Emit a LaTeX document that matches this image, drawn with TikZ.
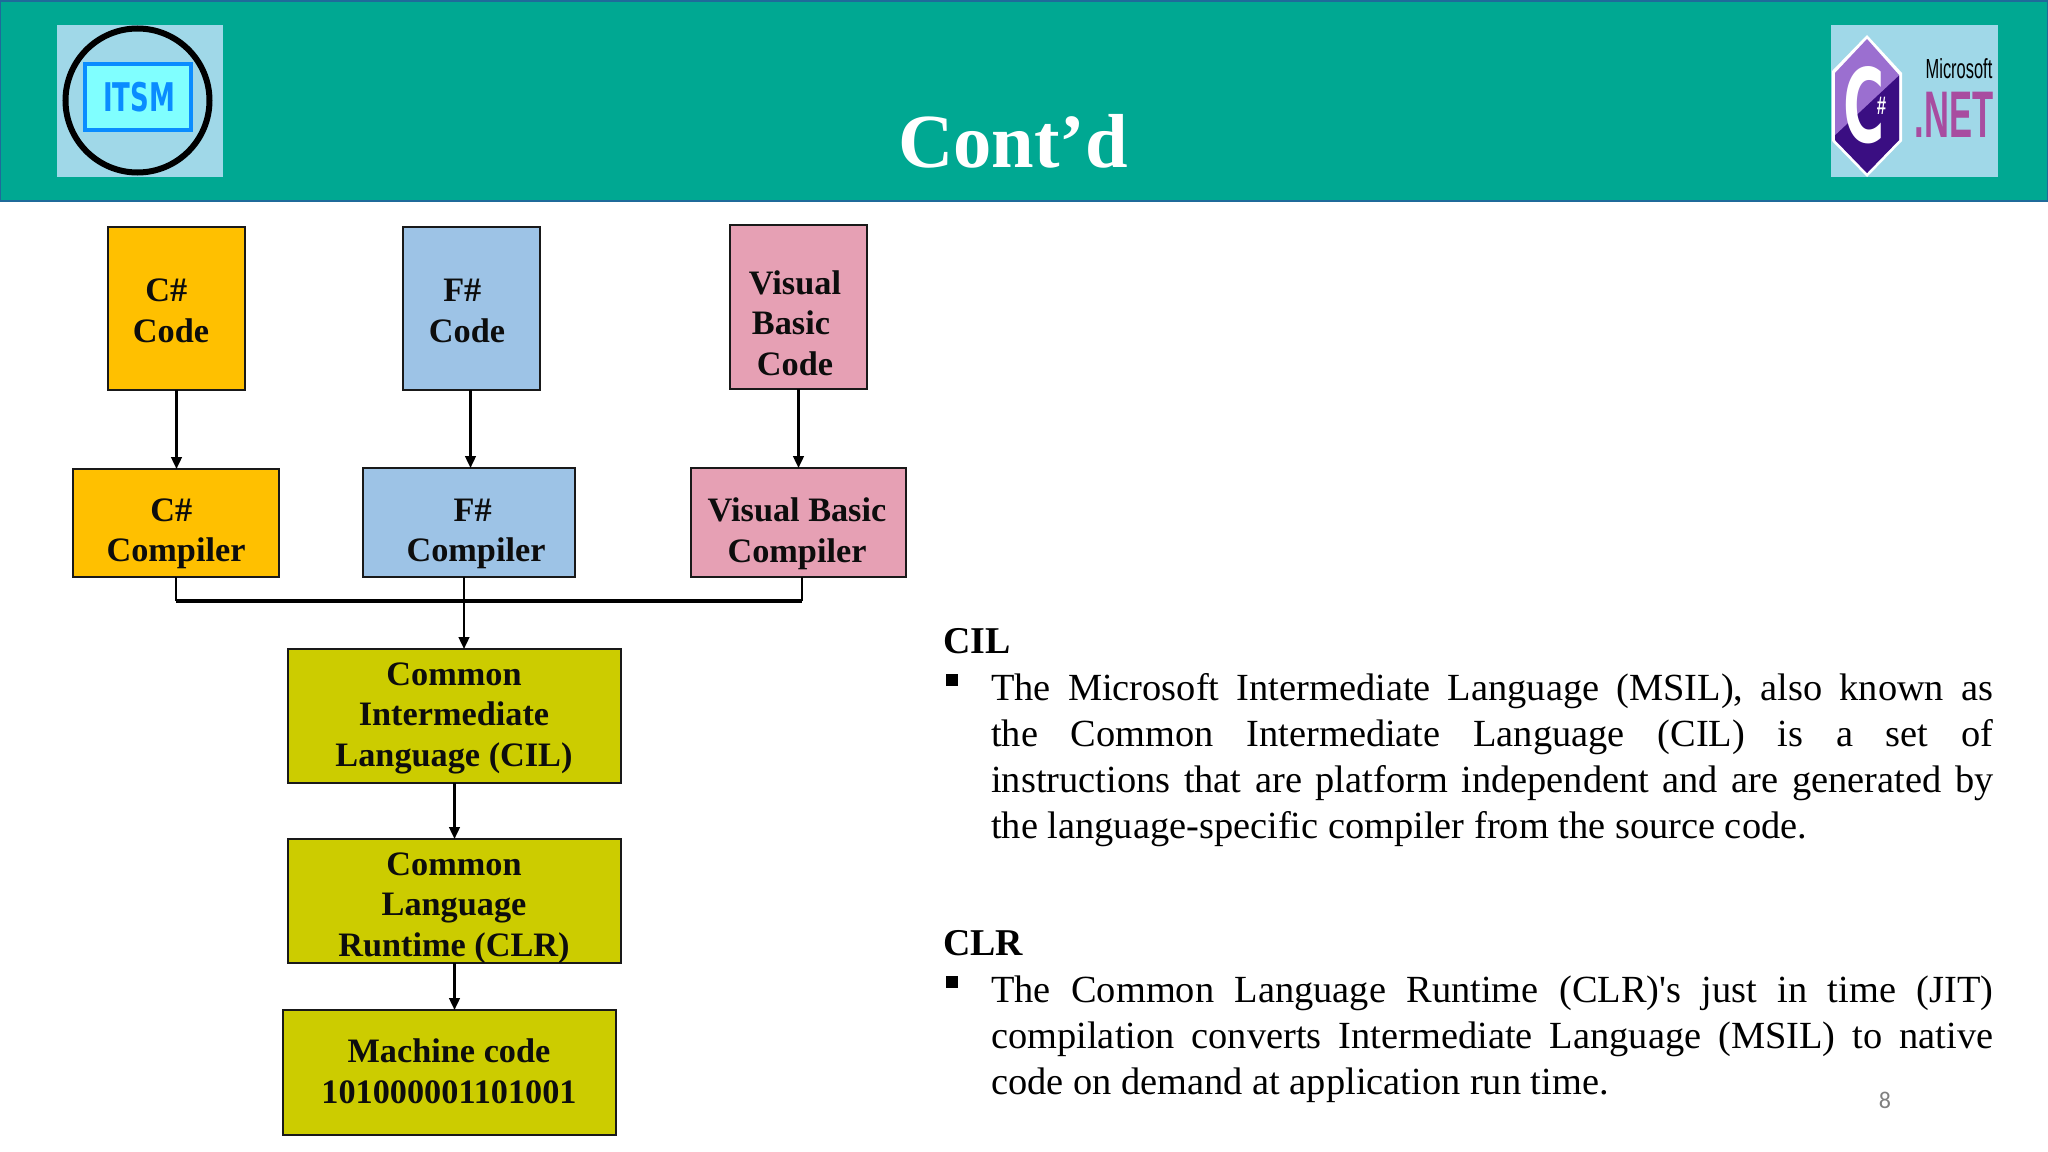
\documentclass[tikz,border=0pt]{standalone}
\usepackage{fontspec}
\setmainfont{Liberation Serif}
\newfontfamily\plainq{Liberation Serif}
\newfontfamily\sansf{Liberation Sans}
\newfontfamily\heavyf{DejaVu Sans}
\newfontfamily\pagef{Carlito}
\usetikzlibrary{arrows.meta,calc}
\definecolor{teal1}{HTML}{00A892}
\definecolor{bandedge}{HTML}{1F6A9A}
\definecolor{logobg}{HTML}{A0D8E8}
\definecolor{orangeb}{HTML}{FFC000}
\definecolor{blueb}{HTML}{9DC3E6}
\definecolor{pinkb}{HTML}{E6A0B4}
\definecolor{oliveb}{HTML}{CCCC00}
\definecolor{lightp}{HTML}{9B6FD0}
\definecolor{darkp}{HTML}{3A0E82}
\definecolor{netc}{HTML}{A84CA0}
\tikzset{
  x=0.75pt,y=-0.75pt,
  flowbox/.style={draw=black!90,line width=1.8pt,inner sep=0pt,outer sep=0pt,anchor=north west},
  boxtext/.style={font=\bfseries\fontsize{25.7}{30.4}\selectfont,align=center,inner sep=0pt,text=black!95},
  arr/.style={draw=black,line width=1.8pt,-{Triangle[length=9pt,width=8pt]}},
  plainline/.style={draw=black,line width=1.8pt},
  busline/.style={draw=black,line width=2.6pt},
  head/.style={font=\bfseries\fontsize{28.4}{34}\selectfont,anchor=base west,inner sep=0pt},
  para/.style={font=\fontsize{28.8}{34.5}\selectfont,anchor=north west,inner sep=0pt,text width=751.5pt,align=justify},
  bulletm/.style={fill=black,inner sep=0pt,minimum size=8.5pt},
}
\newcommand{\mkbox}[6]{% name, x1,y1,x2,y2, colour
  \node[flowbox,fill=#6,minimum width=\dimexpr(#4pt-#2pt)*3/4\relax,minimum height=\dimexpr(#5pt-#3pt)*3/4\relax] (#1) at (#2,#3) {};}
\begin{document}
\begin{tikzpicture}
\useasboundingbox (0,0) rectangle (2048,1152);
\fill[white] (0,0) rectangle (2048,1152);
% band
\fill[teal1] (0,0) rectangle (2048,201);
\draw[bandedge,line width=1.5pt] (0,1) rectangle (2048,201);
% left logo
\fill[logobg] (57,25) rectangle (223,177);
\node[circle,draw=black,line width=4.5pt,minimum size=108pt,inner sep=0pt] (ring) at (137.5,100.5) {};
\node[draw={rgb,255:red,10;green,140;blue,255},fill={rgb,255:red,128;green,255;blue,255},line width=3pt,minimum width=79pt,minimum height=50pt,inner sep=0pt] (itsmbox) at (138,97) {};
\node[inner sep=0pt,text={rgb,255:red,10;green,140;blue,255}] (itsm) at (139,97.5) {\resizebox{54pt}{22pt}{\heavyf\bfseries ITSM}};
% right logo
\fill[logobg] (1831,25) rectangle (1998,177);
\begin{scope}
\path[fill=white] (1867,35) -- (1902,73) -- (1902,141) -- (1867,177) -- (1832,141) -- (1832,71) -- cycle;
\clip (1867,39) -- (1899,75) -- (1899,140) -- (1867,173) -- (1835,140) -- (1835,73) -- cycle;
\fill[lightp] (1830,30) rectangle (1905,180);
\fill[darkp] (1905,70) -- (1905,180) -- (1830,180) -- (1830,140) -- cycle;
\end{scope}
\node[inner sep=0pt,text=white] (csharpc) at (1864,105) {\resizebox{31pt}{57pt}{\heavyf\bfseries C}};
\node[inner sep=0pt,text=white] (csharps) at (1881.5,106) {\resizebox{7pt}{13pt}{\sansf\bfseries\#}};
\node[inner sep=0pt,text=black] (ms) at (1959,69) {\resizebox{50pt}{15pt}{\sansf Microsoft}};
\node[inner sep=0pt,text=netc] (net) at (1954,115) {\resizebox{59pt}{34pt}{\sansf\bfseries .NET}};
% title
\node[font=\bfseries\fontsize{57.4}{60}\selectfont,text=white,anchor=base,inner sep=0pt] (title) at (1013,167) {Cont’d};
% boxes
\mkbox{ccode}{108}{227}{245}{390}{orangeb}
\mkbox{fcode}{403}{227}{540}{390}{blueb}
\mkbox{vcode}{730}{225}{867}{389}{pinkb}
\mkbox{ccomp}{73}{469}{279}{577}{orangeb}
\mkbox{fcomp}{363}{468}{575}{577}{blueb}
\mkbox{vcomp}{691}{468}{906}{577}{pinkb}
\mkbox{cil}{288}{649}{621}{783}{oliveb}
\mkbox{clr}{288}{839}{621}{963}{oliveb}
\mkbox{mach}{283}{1010}{616}{1135}{oliveb}
% box texts
\node[boxtext] (tccode) at (171,311) {C\#\kern7pt\\Code};
\node[boxtext] (tfcode) at (467,311) {F\#\kern7pt\\Code};
\node[boxtext] (tvcode) at (795,323) {Visual\\Basic\kern6pt\\Code};
\node[boxtext] (tccomp) at (176,534) {C\#\kern7pt\\Compiler};
\node[boxtext] (tfcomp) at (476,534) {F\#\kern5pt\\Compiler};
\node[boxtext] (tvcomp) at (797,534) {Visual Basic\\Compiler};
\node[boxtext] (tcil) at (454,718) {Common\\Intermediate\\Language (CIL)};
\node[boxtext] (tclr) at (454,908) {Common\\Language\\Runtime (CLR)};
\node[boxtext] (tmach) at (449,1071) {Machine code\\101000001101001};
% connectors
\draw[arr] (ccode.south) -- (ccode.south |- ccomp.north);
\draw[arr] ($(fcode.south)+(-1,0)$) -- ($(fcode.south |- fcomp.north)+(-1,0)$);
\draw[arr] (vcode.south) -- (vcode.south |- vcomp.north);
\coordinate (busl) at (176,601);
\coordinate (busm) at (464,601);
\coordinate (busr) at (802,601);
\draw[plainline] (busl |- ccomp.south) -- (busl);
\draw[plainline] (busr |- vcomp.south) -- (busr);
\draw[busline] (busl) -- (busr);
\draw[arr] (busm |- fcomp.south) -- (busm |- cil.north);
\draw[arr] (cil.south) -- (cil.south |- clr.north);
\draw[arr] (clr.south) -- (clr.south |- mach.north);
% right text
\node[head] (hcil) at (943,653) {CIL};
\node[bulletm] (b1) at (952,680) {};
\node[para] (p1) at (991,673) {The Microsoft Intermediate Language (MSIL), also known as\linebreak the Common Intermediate Language (CIL) is a set of\linebreak instructions that are platform independent and are generated by\linebreak the language-specific compiler from the source code.};
\node[head] (hclr) at (943,955) {CLR};
\node[bulletm] (b2) at (952,982) {};
\node[para] (p2) at (991,976) {The Common Language Runtime (CLR){\plainq'}s just in time (JIT)\linebreak compilation converts Intermediate Language (MSIL) to native\linebreak code on demand at application run time.};
\node[font=\pagef\fontsize{18}{20}\selectfont,text=black!50,inner sep=0pt] (pg) at (1885,1100) {8};
\end{tikzpicture}
\end{document}
